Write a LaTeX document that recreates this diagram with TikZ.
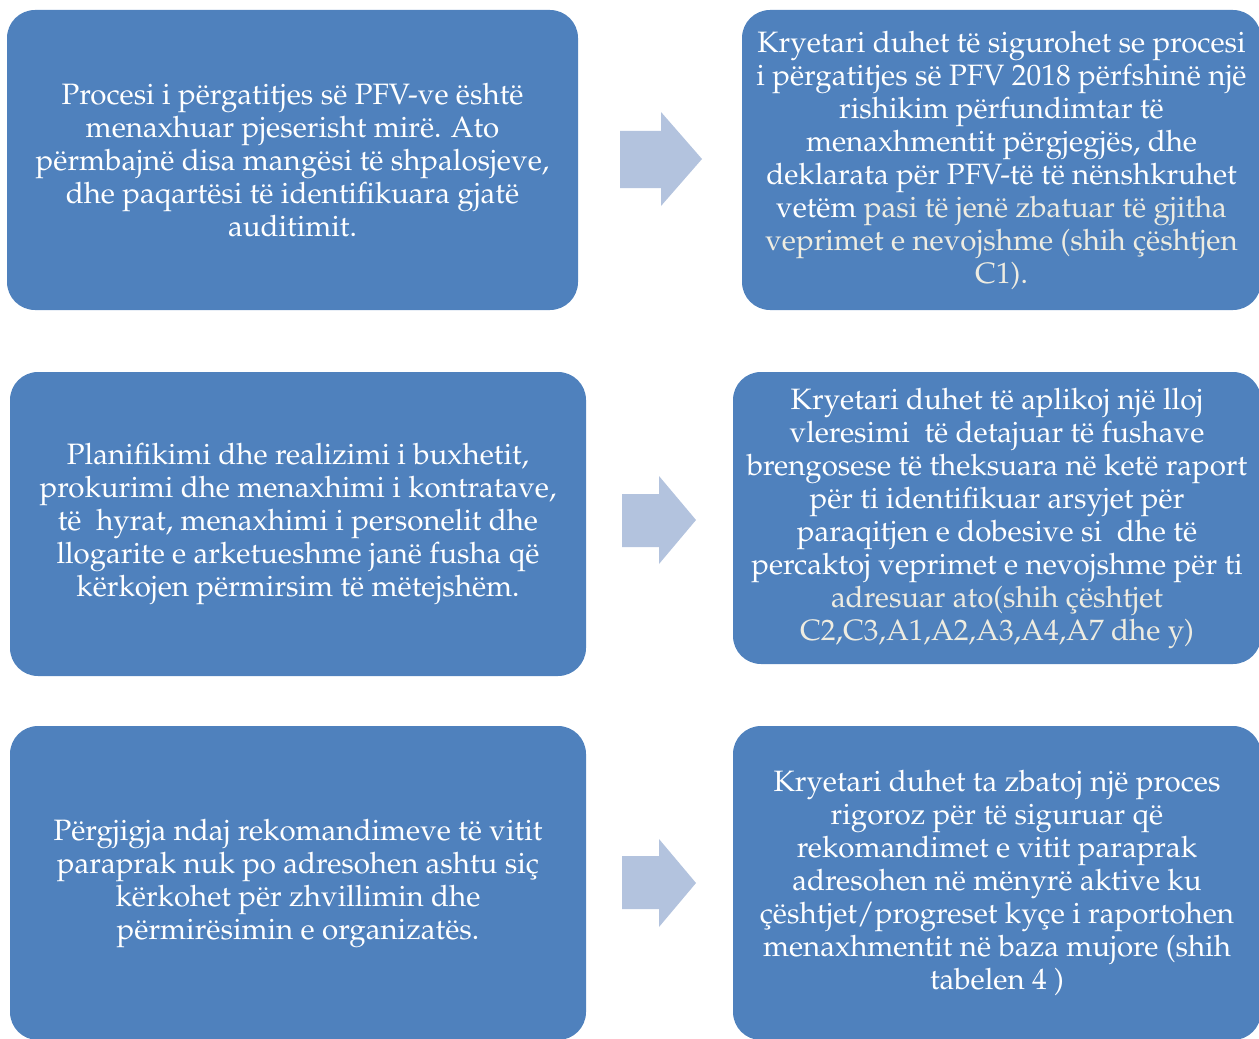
\documentclass[tikz,border=0pt]{standalone}
\usepackage[T1]{fontenc}
\usepackage{mathpazo}
\definecolor{boxblue}{HTML}{4F81BD}
\definecolor{arrowblue}{HTML}{B3C3DE}
\definecolor{cream}{HTML}{EEECE1}
\begin{document}
\begin{tikzpicture}[x=0.75pt,y=-0.75pt,
  box/.style={draw=none,fill=boxblue,rounded corners=21pt,text=white,align=center,
    inner sep=0pt,font=\fontsize{22.1}{24.75}\selectfont},
  blockarrow/.style={fill=arrowblue,draw=none}]
\useasboundingbox (0,0) rectangle (1259,1038);
\node[box,minimum width=428.25pt,minimum height=225pt] (b1) at (292.5,160)
 {Procesi i përgatitjes së PFV-ve është\\menaxhuar pjeserisht mirë. Ato\\përmbajnë disa mangësi të shpalosjeve,\\dhe paqartësi të identifikuara gjatë\\auditimit.};
\node[box,minimum width=389.25pt,minimum height=225pt] (b2) at (1001.5,160)
 {Kryetari duhet të sigurohet se procesi\\i përgatitjes së PFV 2018 përfshinë një\\rishikim përfundimtar të\\menaxhmentit përgjegjës, dhe\\deklarata për PFV-të të nënshkruhet\\vetëm \textcolor{cream}{pasi të jenë zbatuar të gjitha}\\\textcolor{cream}{veprimet e nevojshme (shih çështjen}\\\textcolor{cream}{C1).}};
\node[box,minimum width=432pt,minimum height=228pt] (b3) at (298,524)
 {Planifikimi dhe realizimi i buxhetit,\\prokurimi dhe menaxhimi i kontratave,\\të \ hyrat, menaxhimi i personelit dhe\\llogarite e arketueshme janë fusha që\\kërkojen përmirsim të mëtejshëm.};
\node[box,minimum width=396pt,minimum height=219pt] (b4) at (997,518)
 {Kryetari duhet të aplikoj një lloj\\vleresimi \ të detajuar të fushave\\brengosese të theksuara në ketë raport\\për ti identifikuar arsyjet për\\paraqitjen e dobesive si \ dhe të\\percaktoj veprimet e nevojshme për ti\\\textcolor{cream}{adresuar ato(shih çështjet}\\\textcolor{cream}{C2,C3,A1,A2,A3,A4,A7 dhe y)}};
\node[box,minimum width=432pt,minimum height=235.5pt] (b5) at (298,883)
 {Përgjigja ndaj rekomandimeve të vitit\\paraprak nuk po adresohen ashtu siç\\kërkohet për zhvillimin dhe\\përmirësimin e organizatës.};
\node[box,minimum width=396pt,minimum height=235.5pt] (b6) at (997,883)
 {Kryetari duhet ta zbatoj një proces\\rigoroz për të siguruar që\\rekomandimet e vitit paraprak\\adresohen në mënyrë aktive ku\\çështjet/progreset kyçe i raportohen\\menaxhmentit në baza mujore (shih\\tabelen 4 )};
% block arrows
\fill[blockarrow] (620,131) -- (661,131) -- (661,112) -- (702,159) -- (661,206) -- (661,188) -- (620,188) -- cycle;
\fill[blockarrow] (622,494) -- (659,494) -- (659,476) -- (696,520) -- (659,564) -- (659,547) -- (622,547) -- cycle;
\fill[blockarrow] (622,856) -- (659,856) -- (659,839) -- (696,883) -- (659,927) -- (659,909) -- (622,909) -- cycle;
\end{tikzpicture}
\end{document}
